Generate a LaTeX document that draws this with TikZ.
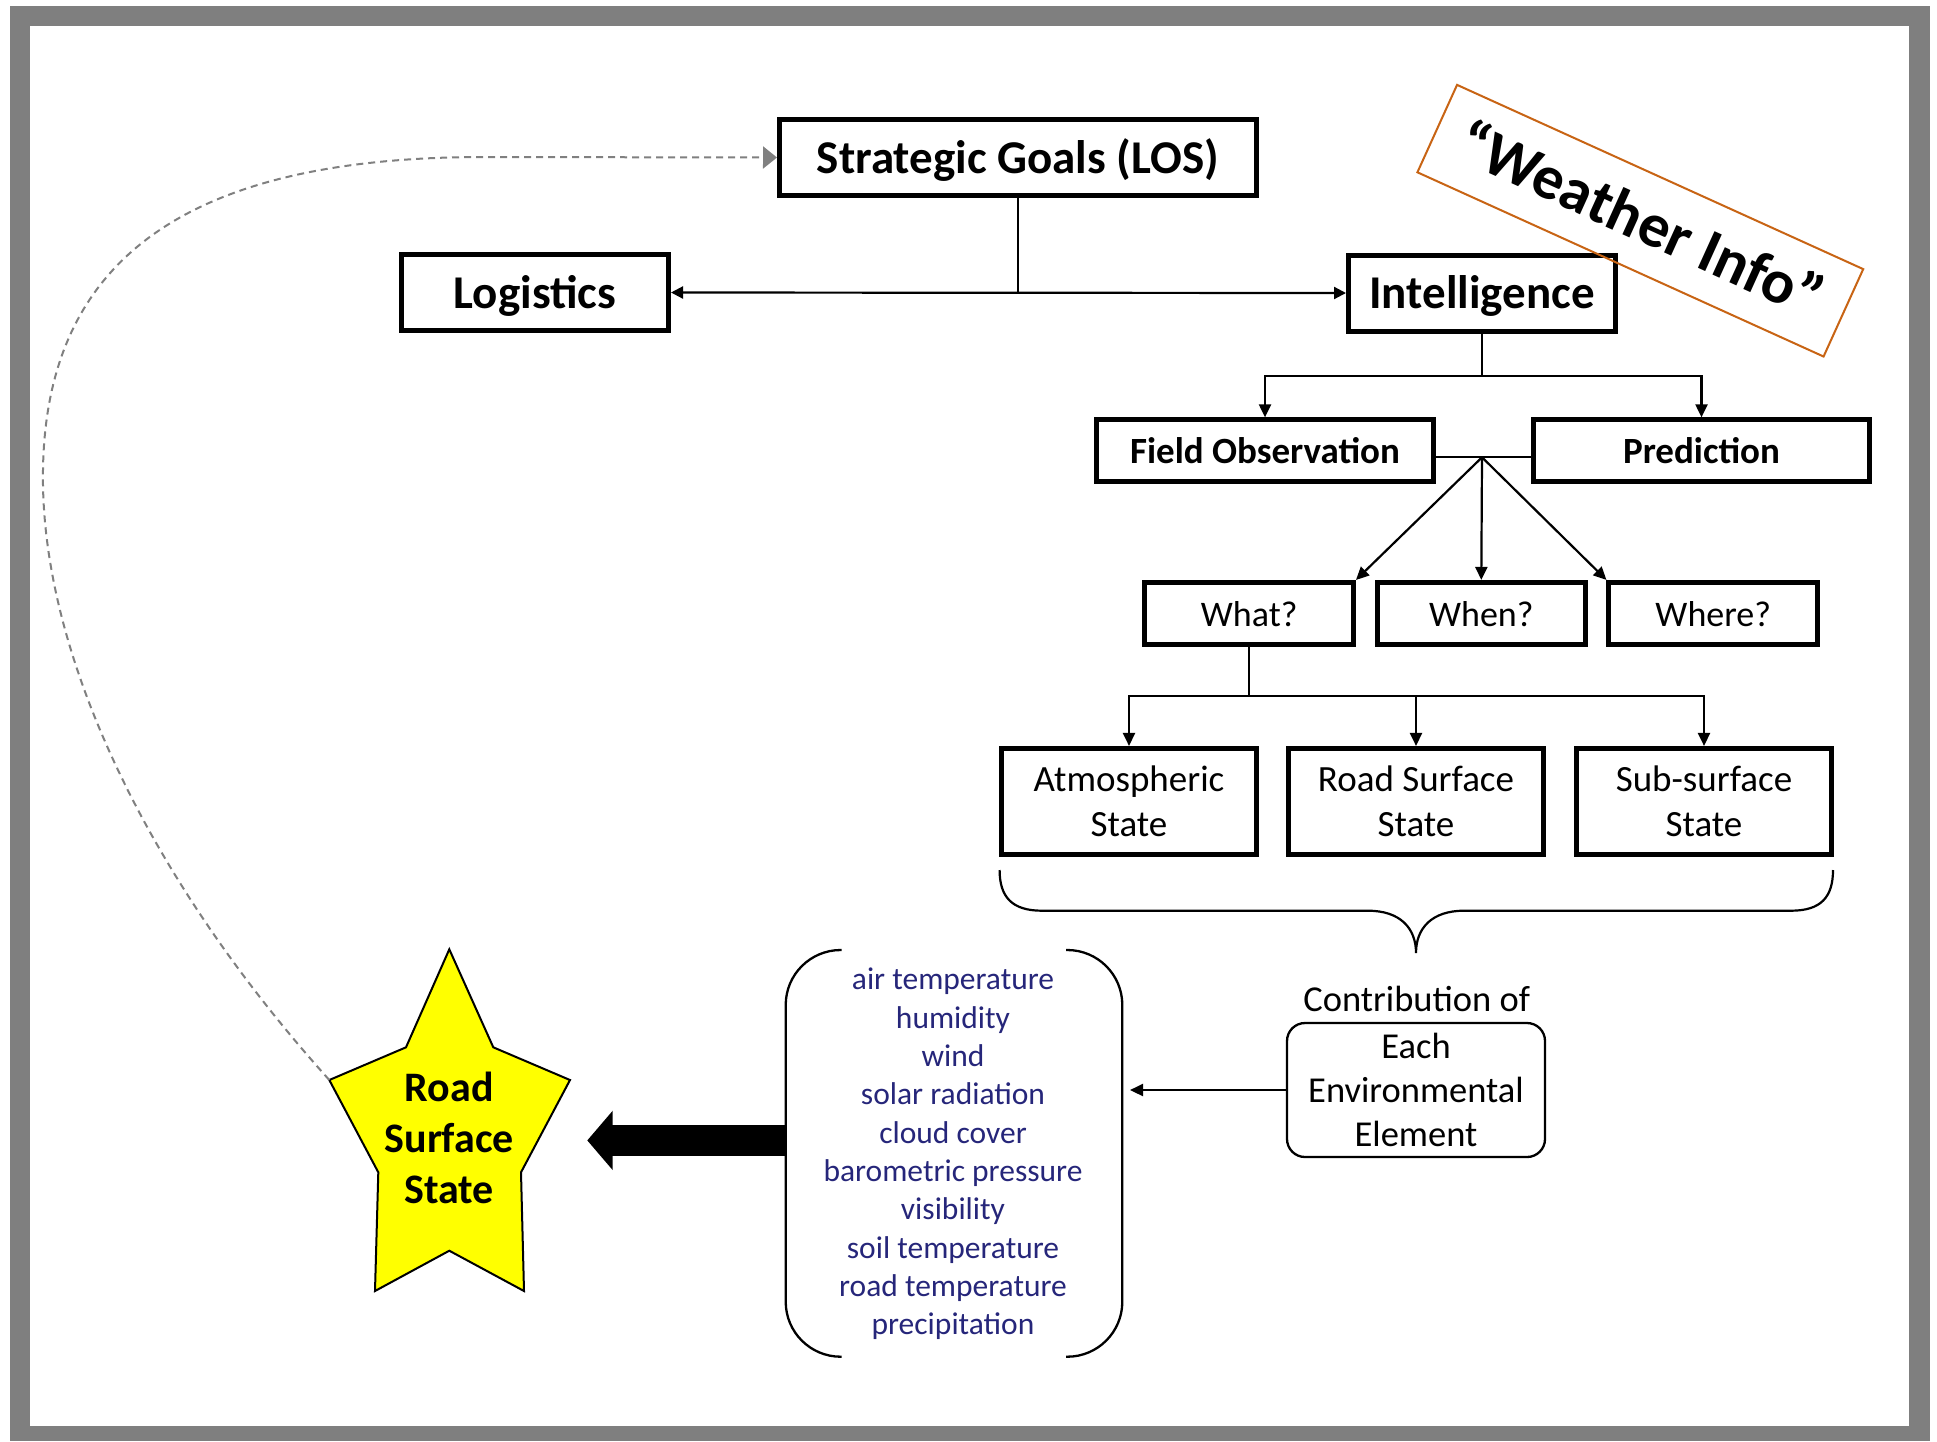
\documentclass[tikz,border=0pt]{standalone}
\usepackage{fontspec}
\setmainfont{Carlito}
\usetikzlibrary{arrows.meta,calc}
\definecolor{framegray}{RGB}{127,127,127}
\definecolor{navytext}{RGB}{38,38,122}
\definecolor{orng}{RGB}{200,100,20}
\definecolor{dgray}{RGB}{128,128,128}
\definecolor{yel}{RGB}{255,255,0}
\begin{document}
\begin{tikzpicture}[x=1pt,y=-1pt,
  boxbase/.style={draw, line width=5pt, inner sep=0pt, align=center},
  bigbox/.style={boxbase, minimum height=76pt, text height=39pt, text depth=8pt, font=\fontsize{47}{56}\selectfont\bfseries},
  midbox/.style={boxbase, minimum height=61.7pt, minimum width=336.5pt, text height=31.5pt, text depth=5.5pt, font=\fontsize{37}{45}\selectfont\bfseries},
  qbox/.style={boxbase, minimum height=61.7pt, minimum width=208.5pt, text height=31pt, text depth=5pt, font=\fontsize{36}{44}\selectfont},
  statebox/.style={boxbase, minimum height=106.3pt, minimum width=255.5pt, font=\fontsize{37}{45}\selectfont},
  conn/.style={line width=2.2pt},
  tipped/.style={conn, -{Triangle[length=13pt,width=12pt]}},
  both/.style={conn, {Triangle[length=12pt,width=12pt]}-{Triangle[length=12pt,width=12pt]}},
  bracketline/.style={line width=2.3pt, rounded corners=55pt}
]
\useasboundingbox (0,0) rectangle (1937,1441);
% frame
\fill[framegray] (10,6) rectangle (1930,1441);
\fill[white] (30,26) rectangle (1909,1426);

% top level
\node[bigbox, minimum width=477pt] (goals) at (1018,157.5) {Strategic Goals (LOS)};
\node[bigbox, minimum width=267pt] (logi) at (535,292.5) {Logistics};
\node[bigbox, minimum width=267pt] (intel) at (1482,293) {Intelligence};

\draw[conn] (goals.south) -- (goals.south |- logi.east);
\draw[both] (logi.east) -- (intel.west);

% second level
\node[midbox] (fobs) at (1265,450.7) {Field Observation};
\node[midbox] (pred) at (1701.5,450.7) {Prediction};
\coordinate (j2) at (1482,375.7);
\draw[conn] (intel.south) -- (intel.south |- j2);
\draw[tipped] (intel.south |- j2) -| (fobs.north);
\draw[tipped] (intel.south |- j2) -| (pred.north);

% questions
\node[qbox] (what) at (1249.2,613.3) {What?};
\node[qbox] (when) at (1481.3,613.3) {When?};
\node[qbox] (where) at (1713.2,613.3) {Where?};
\coordinate (fork) at (1482,457.3);
\draw[conn] (fobs.east |- fork) -- (pred.west |- fork);
\draw[tipped] (fork) -- (what.north east);
\draw[tipped] (fork) -- (when.north);
\draw[tipped] (fork) -- (where.north west);

% states
\node[statebox] (atm) at (1129,801.6) {Atmospheric\\State};
\node[statebox] (road) at (1416,801.6) {Road Surface\\State};
\node[statebox] (sub) at (1704,801.6) {Sub-surface\\State};
\coordinate (j3) at (1249.3,696);
\draw[conn] (what.south) -- (what.south |- j3);
\draw[tipped] (what.south |- j3) -| (atm.north);
\draw[tipped] (what.south |- j3) -| (sub.north);
\draw[tipped] (road.north |- j3) -- (road.north);

% brace
\draw[line width=2.2pt] (999.6,870) .. controls (999.6,897) and (1012,910.7) .. (1042,910.7) -- (1368,910.7) .. controls (1400,910.7) and (1416,928) .. (1416,953) .. controls (1416,928) and (1432,910.7) .. (1464,910.7) -- (1791,910.7) .. controls (1821,910.7) and (1833,897) .. (1833,870);

% contribution
\node[font=\fontsize{36.5}{44}\selectfont, inner sep=0pt] (contrib) at (1416.7,999) {Contribution of};
\node[draw, line width=2.3pt, rounded corners=18pt, minimum width=258pt, minimum height=134pt, inner sep=0pt, align=center, font=\fontsize{36.5}{44}\selectfont] (each) at (1416,1090) {Each\\Environmental\\Element};

% list of elements
\node[align=center, inner sep=0pt, text=navytext, font=\fontsize{31.5}{38.3}\selectfont] (list) at (953,1154) {air temperature\\humidity\\wind\\solar radiation\\cloud cover\\barometric pressure\\visibility\\soil temperature\\road temperature\\precipitation};
\draw[bracketline] (841.7,950) -- (785.7,950) -- (785.7,1356.7) -- (841.7,1356.7);
\draw[bracketline] (1066,950) -- (1122.3,950) -- (1122.3,1356.7) -- (1066,1356.7);
\coordinate (listR) at (1130,1090);
\draw[tipped] (each.west) -- (listR);

% star
\draw[fill=yel, line width=2pt, line join=miter] (449.3,949.3) -- (493.3,1047.3) -- (570,1080) -- (521,1172.3) -- (524,1291) -- (449.3,1250.7) -- (375,1291) -- (378.3,1172.3) -- (329.3,1080) -- (406,1047.3) -- cycle;
\node[align=center, inner sep=0pt, font=\fontsize{42}{51}\selectfont\bfseries] (star) at (449.3,1138.3) {Road\\Surface\\State};
\coordinate (starL) at (329.3,1080);

% fat arrow from list to star
\coordinate (listL) at (785.7,1140.4);
\coordinate (fatTip) at (587.3,1140.4);
\fill ($(listL)+(0,-15.35)$) -- ($(fatTip)+(25.4,-15.35)$) -- ($(fatTip)+(25.4,-29.7)$) -- (fatTip) -- ($(fatTip)+(25.4,29.7)$) -- ($(fatTip)+(25.4,15.35)$) -- ($(listL)+(0,15.35)$) -- cycle;

% dashed feedback curve
\draw[dgray, line width=2pt, dash pattern=on 7pt off 5pt, -{Triangle[length=14pt,width=22pt]}] (starL) .. controls (145,875) and (40,650) .. (43,470) .. controls (46,250) and (200,158) .. (480,157) -- (goals.west);

% weather info tag
\node[draw=orng, line width=2pt, rotate=-24.4, minimum width=446pt, minimum height=96pt, inner sep=0pt, text height=50pt, text depth=11pt, font=\fontsize{62}{70}\selectfont\bfseries] (weather) at (1640.3,220.7) {“Weather Info”};
\end{tikzpicture}
\end{document}
